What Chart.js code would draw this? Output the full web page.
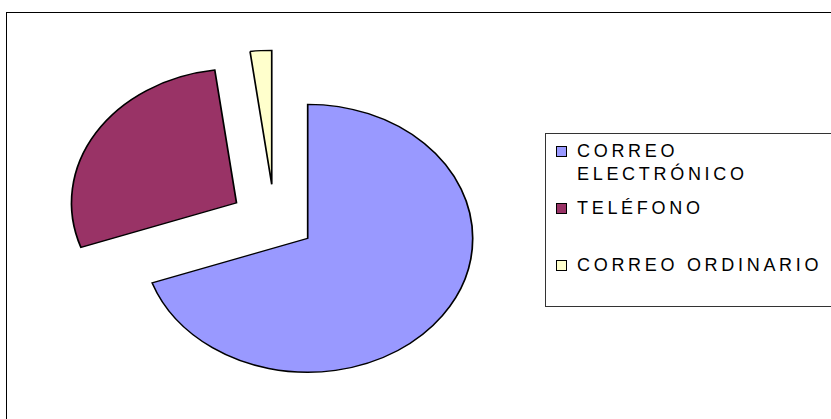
<!DOCTYPE html>
<html><head><meta charset="utf-8">
<script src="https://cdn.jsdelivr.net/npm/chart.js@4.4.1/dist/chart.umd.min.js"></script>
<style>
html,body{margin:0;padding:0;background:#fff;overflow:hidden;}
#wrap{position:relative;width:831px;height:419px;overflow:hidden;background:#fff;}
#frame{position:absolute;left:6px;top:12px;width:900px;height:500px;border-left:1px solid #000;border-top:1px solid #000;}
canvas{position:absolute;left:0;top:0;}
#legend{position:absolute;left:545px;top:133px;width:320px;height:172px;border:1px solid #333;background:#fff;}
.sw{position:absolute;width:9px;height:9px;border:1px solid #000;}
.lt{position:absolute;font-family:"Liberation Sans",Arial,sans-serif;font-size:18px;line-height:23px;letter-spacing:3.7px;color:#000;width:256px;}
</style></head><body>
<div id="wrap"><div id="frame"></div><canvas id="c" width="831" height="419"></canvas><div id="legend"></div></div>
<script>
const LABELS = ['CORREO ELECTRÓNICO', 'TELÉFONO', 'CORREO ORDINARIO'];
const VALUES = [69.6, 28.3, 2.1];
const COLORS = ['#9999FF', '#993366', '#FFFFCC'];

// style constants
const Y_SCALE = 0.812;               // pie is drawn as an ellipse
const EXPLODE_DIST = [0, 83.5, 75.6];
const EXPLODE_DIR = [null, null, 241.6]; // degrees, null = along slice bisector
const LEGEND_SW_TOP = [12, 69, 126];
const LEGEND_TX_TOP = [6, 63, 120];

const piePlugin = {
  id: 'excelPie',
  beforeDatasetsDraw(chart) {
    const meta = chart.getDatasetMeta(0);
    const c = meta.data[0];
    const ctx = chart.ctx;
    ctx.save();
    ctx.translate(c.x, c.y);
    ctx.scale(1, Y_SCALE);
    ctx.translate(-c.x, -c.y);
    meta.data.forEach((arc, i) => {
      if (arc.__wrapped) return;
      const orig = arc.draw;
      arc.draw = function (cx, area) {
        const mid = (this.startAngle + this.endAngle) / 2;
        const a = EXPLODE_DIR[i] == null ? mid : EXPLODE_DIR[i] * Math.PI / 180;
        const d = EXPLODE_DIST[i];
        cx.save();
        cx.translate(Math.cos(a) * d, Math.sin(a) * d);
        orig.call(this, cx, area);
        cx.restore();
      };
      arc.__wrapped = true;
    });
  },
  afterDatasetsDraw(chart) { chart.ctx.restore(); }
};

new Chart(document.getElementById('c'), {
  type: 'pie',
  data: {
    labels: LABELS,
    datasets: [{
      data: VALUES,
      backgroundColor: COLORS,
      borderColor: '#000',
      borderWidth: 1.7,
      borderJoinStyle: 'miter',
      radius: 165,
      clip: false
    }]
  },
  options: {
    responsive: false,
    animation: false,
    devicePixelRatio: 1,
    events: [],
    radius: 165,
    layout: { padding: { left: 0, right: 215.6, top: 57.6, bottom: 0 } },
    plugins: { legend: { display: false }, tooltip: { enabled: false } }
  },
  plugins: [piePlugin]
});

const lg = document.getElementById('legend');
LABELS.forEach((lab, i) => {
  const sw = document.createElement('div');
  sw.className = 'sw';
  sw.style.left = '10px';
  sw.style.top = LEGEND_SW_TOP[i] + 'px';
  sw.style.background = COLORS[i];
  lg.appendChild(sw);
  const t = document.createElement('div');
  t.className = 'lt';
  t.style.left = '31px';
  t.style.top = LEGEND_TX_TOP[i] + 'px';
  t.textContent = lab;
  lg.appendChild(t);
});
</script>
</body></html>
